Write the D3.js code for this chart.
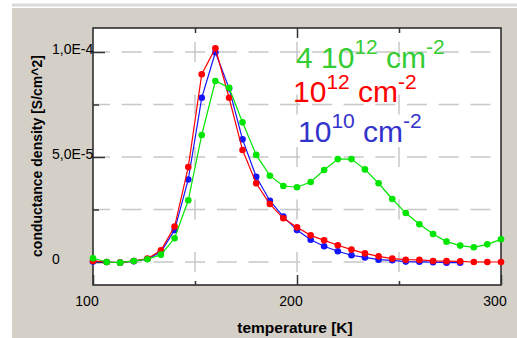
<!DOCTYPE html>
<html>
<head>
<meta charset="utf-8">
<script src="https://cdn.jsdelivr.net/npm/d3@7"></script>
<style>
  body { margin: 0; background: #fff; }
  svg { display: block; font-family: "Liberation Sans", Arial, sans-serif; }
</style>
</head>
<body>
<div id="graph"></div>
<script>
// temperature [K] of every sample
var temperatures = [100, 106.7, 113.3, 120, 126.7, 133.3, 140, 146.7, 153.3, 160,
    166.7, 173.3, 180, 186.7, 193.3, 200, 206.7, 213.3, 220, 226.7,
    233.3, 240, 246.7, 253.3, 260, 266.7, 273.3, 280, 286.7, 293.3, 300];

// conductance density, in units of 1e-5 S/cm^2
var unit = 1e-5;
var green4e12 = [0.18, 0.0, -0.03, 0.05, 0.13, 0.35, 1.13, 2.94, 6.05, 8.62,
    8.30, 6.65, 5.10, 4.11, 3.62, 3.56, 3.81, 4.38, 4.90, 4.90,
    4.41, 3.75, 3.00, 2.33, 1.80, 1.33, 0.97, 0.78, 0.70, 0.84, 1.08];
var red1e12 = [0.05, 0.0, -0.03, 0.05, 0.16, 0.56, 1.69, 4.52, 8.94, 10.18,
    7.82, 5.33, 3.75, 2.76, 2.08, 1.65, 1.27, 1.03, 0.80, 0.59,
    0.41, 0.27, 0.16, 0.11, 0.10, 0.05, 0.04, 0.03, 0.0, 0.0, 0.0];
var blue1e10 = [0.02, 0.0, -0.03, 0.04, 0.14, 0.48, 1.52, 3.93, 7.82, 9.99,
    8.27, 5.84, 4.06, 2.92, 2.16, 1.52, 1.06, 0.75, 0.51, 0.32,
    0.22, 0.11, 0.08, 0.02, 0.01, -0.01, -0.03, -0.03];

var xTickValues = [100, 200, 300];
var xTickLabels = ["100", "200", "300"];
var xMinorTicks = [150, 250];
var yTickValues = [0, 5e-5, 1e-4];
var yTickLabels = ["0", "5,0E-5", "1,0E-4"];
var yMinorTicks = [2.5e-5, 7.5e-5];

var legend = [
    {main: "4 10", sup: "12", unit: " cm", unitSup: "-2", color: "#33cc33", x: 296, y: 68, rise: 14},
    {main: "10", sup: "12", unit: " cm", unitSup: "-2", color: "#ff0000", x: 293, y: 102, rise: 13},
    {main: "10", sup: "10", unit: " cm", unitSup: "-2", color: "#3333cc", x: 298, y: 142, rise: 14}
];

var width = 517, height = 338;
var plot = {left: 93, right: 501, top: 28, bottom: 285};

var svg = d3.select("#graph").append("svg")
    .attr("width", width)
    .attr("height", height);

// window panel
svg.append("rect").attr("x", 12).attr("y", 3.5).attr("width", width - 12).attr("height", 3)
    .attr("fill", "#dadada");
svg.append("rect").attr("x", 12).attr("y", 8).attr("width", width - 12).attr("height", height - 8)
    .attr("fill", "#d4d0c8");

var x = d3.scaleLinear().domain([100, 300]).range([plot.left, plot.right]);
var y = d3.scaleLinear().domain([-1.095e-5, 1.1143e-4]).range([plot.bottom, plot.top]);

svg.append("rect")
    .attr("x", plot.left).attr("y", plot.top)
    .attr("width", plot.right - plot.left).attr("height", plot.bottom - plot.top)
    .attr("fill", "#fff");

// grid
var hGrid = yTickValues.concat(yMinorTicks);
svg.append("g").selectAll("line").data(hGrid).join("line")
    .attr("x1", plot.left).attr("x2", plot.right)
    .attr("y1", function(d) { return y(d); }).attr("y2", function(d) { return y(d); })
    .attr("stroke", "#c8c8c8").attr("stroke-width", 1.5)
    .attr("stroke-dasharray", "20,11.7").attr("stroke-dashoffset", 3);

var vPeriod = (y(0) - y(2.5e-5));
var vOffset = vPeriod - ((y(1e-4) - 10 - plot.top) % vPeriod);
svg.append("g").selectAll("line").data([150, 200, 250]).join("line")
    .attr("x1", function(d) { return x(d); }).attr("x2", function(d) { return x(d); })
    .attr("y1", plot.top).attr("y2", plot.bottom)
    .attr("stroke", "#c8c8c8").attr("stroke-width", 1.5)
    .attr("stroke-dasharray", "20," + (vPeriod - 20)).attr("stroke-dashoffset", vOffset);

// frame
svg.append("rect")
    .attr("x", plot.left).attr("y", plot.top)
    .attr("width", plot.right - plot.left).attr("height", plot.bottom - plot.top)
    .attr("fill", "none").attr("stroke", "#222").attr("stroke-width", 1.5);

function styleAxis(g) {
    g.select(".domain").remove();
    g.selectAll(".tick line").attr("stroke", "#333").attr("stroke-width", 1.5);
    g.selectAll(".tick text").attr("fill", "#000").style("font-size", "14px")
        .style("font-family", "'Liberation Sans', Arial, sans-serif");
}

// x axis
svg.append("g")
    .attr("transform", "translate(0," + plot.bottom + ")")
    .call(d3.axisBottom(x).tickValues(xTickValues).tickSize(-10)
        .tickFormat(function(d, i) { return xTickLabels[i]; }))
    .call(styleAxis)
    .call(function(g) {
        g.selectAll(".tick text").attr("y", 21).attr("dy", 0).attr("x", -6.5);
    });
svg.append("g")
    .attr("transform", "translate(0," + plot.bottom + ")")
    .call(d3.axisBottom(x).tickValues(xMinorTicks).tickSize(-4).tickFormat(""))
    .call(styleAxis);
svg.append("g")
    .attr("transform", "translate(0," + plot.top + ")")
    .call(d3.axisTop(x).tickValues([200]).tickSize(-10).tickFormat(""))
    .call(styleAxis);
svg.append("g")
    .attr("transform", "translate(0," + plot.top + ")")
    .call(d3.axisTop(x).tickValues(xMinorTicks).tickSize(-5).tickFormat(""))
    .call(styleAxis);

// y axis, labels are left aligned in this chart
svg.append("g")
    .attr("transform", "translate(" + plot.left + ",0)")
    .call(d3.axisLeft(y).tickValues(yTickValues).tickSize(-12)
        .tickFormat(function(d, i) { return yTickLabels[i]; }))
    .call(styleAxis)
    .call(function(g) {
        g.selectAll(".tick line").attr("x1", -1);
        g.selectAll(".tick text").attr("x", -41).attr("dy", 0).attr("y", 1)
            .attr("text-anchor", "start");
    });
svg.append("g")
    .attr("transform", "translate(" + plot.left + ",0)")
    .call(d3.axisLeft(y).tickValues(yMinorTicks).tickSize(-6).tickFormat(""))
    .call(styleAxis);

// axis titles
svg.append("text")
    .attr("x", 295).attr("y", 333)
    .attr("text-anchor", "middle")
    .style("font-size", "15.5px").style("font-weight", "bold")
    .text("temperature [K]");
svg.append("text")
    .attr("transform", "translate(42,156) rotate(-90)")
    .attr("text-anchor", "middle")
    .style("font-size", "14px").style("font-weight", "bold")
    .text("conductance density [S/cm^2]");

// series, drawn blue first so green ends on top
var series = [
    {values: blue1e10, color: "#1414ff"},
    {values: red1e12, color: "#ff0000"},
    {values: green4e12, color: "#00e600"}
];

var line = d3.line()
    .x(function(d) { return x(d[0]); })
    .y(function(d) { return y(d[1] * unit); });

series.forEach(function(s) {
    var pts = s.values.map(function(v, i) { return [temperatures[i], v]; });
    var g = svg.append("g");
    g.append("path")
        .datum(pts)
        .attr("d", line)
        .attr("fill", "none")
        .attr("stroke", s.color)
        .attr("stroke-width", 1.2);
    g.selectAll("circle").data(pts).join("circle")
        .attr("cx", function(d) { return x(d[0]); })
        .attr("cy", function(d) { return y(d[1] * unit); })
        .attr("r", 3.3)
        .attr("fill", s.color);
});

// legend text with superscripts
legend.forEach(function(l) {
    var t = svg.append("text")
        .attr("x", l.x).attr("y", l.y)
        .attr("fill", l.color)
        .style("font-size", "30px");
    t.append("tspan").text(l.main);
    t.append("tspan").attr("dy", -l.rise).style("font-size", "21px").text(l.sup);
    t.append("tspan").attr("dy", l.rise).text(l.unit);
    t.append("tspan").attr("dy", -l.rise).style("font-size", "21px").text(l.unitSup);
});
</script>
</body>
</html>
